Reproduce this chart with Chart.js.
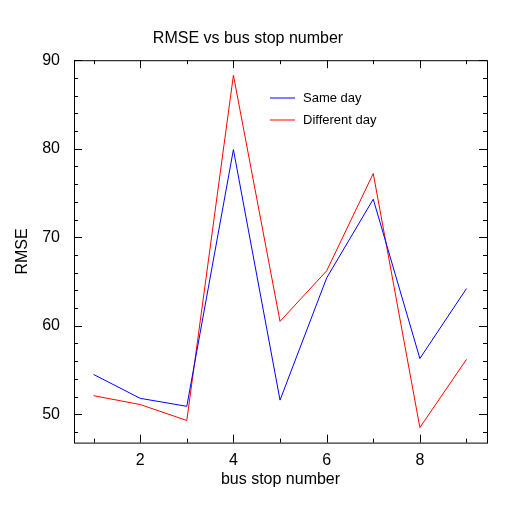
<!DOCTYPE html>
<html>
<head>
<meta charset="UTF-8">
<script src="https://cdn.jsdelivr.net/npm/chart.js"></script>
<style>html,body{margin:0;background:#fff}#wrap{width:512px;height:512px}</style>
</head>
<body>
<div id="wrap"><canvas id="c"></canvas></div>
<script>
const stops = [1, 2, 3, 4, 5, 6, 7, 8, 9]
const sameDay = [54.5, 51.8, 50.9, 79.9, 51.6, 65.4, 74.3, 56.3, 64.2]
const diffDay = [52.1, 51.1, 49.3, 88.3, 60.5, 66.2, 77.2, 48.5, 56.2]
const xTicks = [2, 4, 6, 8]
const yTicks = [50, 60, 70, 80, 90]

const font = { family: 'Liberation Sans, Arial, sans-serif', size: 16 }

// frame with inward ticks plus legend inside the plot
const frame = {
  id: 'frame',
  afterDraw (chart) {
    const { ctx, chartArea: a, scales: { x, y } } = chart
    ctx.save()
    ctx.strokeStyle = '#000'
    ctx.lineWidth = 1
    ctx.strokeRect(a.left + 0.5, a.top + 0.5, a.right - a.left, a.bottom - a.top)
    ctx.beginPath()
    for (let v = 1; v <= 9; v++) {
      const px = Math.round(x.getPixelForValue(v)) + 0.5
      const len = xTicks.includes(v) ? 8 : 4
      ctx.moveTo(px, a.bottom); ctx.lineTo(px, a.bottom - len)
      ctx.moveTo(px, a.top); ctx.lineTo(px, a.top + len)
    }
    for (let v = 48; v <= 90; v += 2) {
      const py = Math.round(y.getPixelForValue(v)) + 0.5
      const len = yTicks.includes(v) ? 8 : 4
      ctx.moveTo(a.left, py); ctx.lineTo(a.left + len, py)
      ctx.moveTo(a.right, py); ctx.lineTo(a.right - len, py)
    }
    ctx.stroke()
    // legend
    ctx.font = '13px Liberation Sans, Arial, sans-serif'
    ctx.textBaseline = 'middle'
    chart.data.datasets.forEach((ds, i) => {
      const ly = 98 + i * 22
      ctx.strokeStyle = ds.borderColor
      ctx.beginPath(); ctx.moveTo(270, ly); ctx.lineTo(295, ly); ctx.stroke()
      ctx.fillStyle = '#000'
      ctx.fillText(ds.label, 303, ly)
    })
    ctx.restore()
  }
}

new Chart(document.getElementById('c'), {
  type: 'line',
  data: {
    datasets: [
      { label: 'Same day', data: stops.map((s, i) => ({ x: s, y: sameDay[i] })), borderColor: '#0000ff', borderWidth: 1, pointRadius: 0, tension: 0 },
      { label: 'Different day', data: stops.map((s, i) => ({ x: s, y: diffDay[i] })), borderColor: '#ff0000', borderWidth: 1, pointRadius: 0, tension: 0 }
    ]
  },
  options: {
    responsive: true,
    maintainAspectRatio: false,
    animation: false,
    layout: { padding: { left: 9, right: 25, top: 0, bottom: 19 } },
    plugins: {
      legend: { display: false },
      tooltip: { enabled: false },
      title: { display: true, text: 'RMSE vs bus stop number', color: '#000', font: { ...font, weight: 'normal' }, padding: { top: 29, bottom: 12 } }
    },
    scales: {
      x: {
        type: 'linear', min: 0.58, max: 9.44,
        afterBuildTicks: s => { s.ticks = xTicks.map(v => ({ value: v })) },
        grid: { display: false },
        border: { display: false },
        ticks: { color: '#000', font, padding: 0 },
        title: { display: true, text: 'bus stop number', color: '#000', font, padding: { top: 0 } }
      },
      y: {
        min: 46.8, max: 90,
        afterBuildTicks: s => { s.ticks = yTicks.map(v => ({ value: v })) },
        grid: { display: false },
        border: { display: false },
        ticks: { color: '#000', font, padding: 6 },
        title: { display: true, text: 'RMSE', color: '#000', font, padding: { bottom: 4 } }
      }
    }
  },
  plugins: [frame]
})
</script>
</body>
</html>
